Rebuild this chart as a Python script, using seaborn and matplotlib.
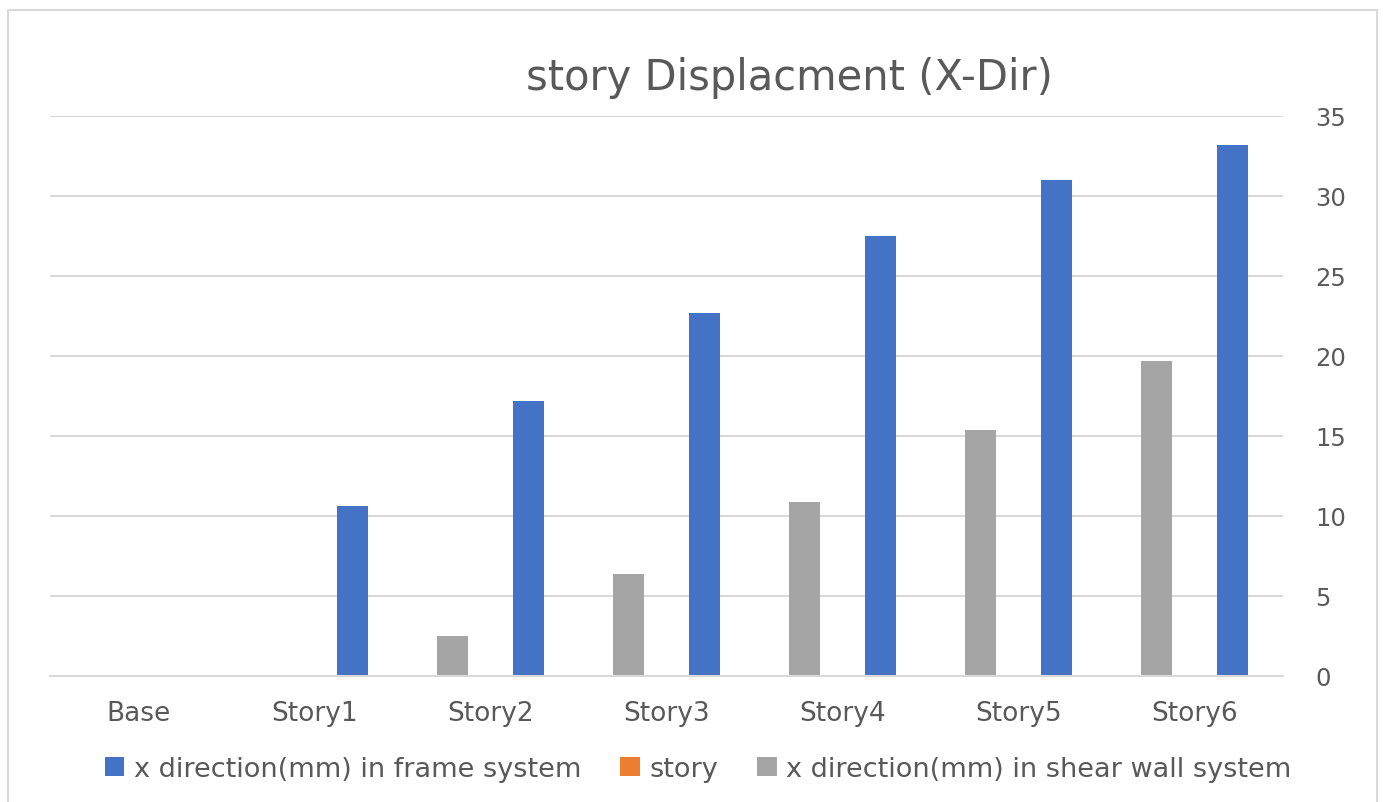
import numpy as np
import pandas as pd
import matplotlib
matplotlib.use("Agg")
import matplotlib.pyplot as plt
from matplotlib.patches import Rectangle
import seaborn as sns

categories = ["Base", "Story1", "Story2", "Story3", "Story4", "Story5", "Story6"]
frame_values = [0, 10.6, 17.2, 22.7, 27.5, 31.0, 33.2]
story_values = [0, 0, 0, 0, 0, 0, 0]
shear_values = [0, 0, 2.5, 6.4, 10.9, 15.4, 19.7]
y_ticks = [0, 5, 10, 15, 20, 25, 30, 35]

s_frame = "x direction(mm) in frame system"
s_story = "story"
s_shear = "x direction(mm) in shear wall system"

df = pd.DataFrame({
    "cat": categories * 3,
    "val": frame_values + story_values + shear_values,
    "series": [s_frame] * 7 + [s_story] * 7 + [s_shear] * 7,
})

sns.set_style("white")
plt.rcParams["font.family"] = ["DejaVu Sans"]
text_color = "#595959"
grid_color = "#d9d9d9"

fig = plt.figure(figsize=(13.83, 8.03), dpi=100)
ax = fig.add_axes([50 / 1383, 1 - 677 / 803, (1283 - 50) / 1383, (677 - 117) / 803])

palette = {s_frame: "#4472c4", s_story: "#ed7d31", s_shear: "#a5a5a5"}
sns.barplot(data=df, x="cat", y="val", hue="series",
            hue_order=[s_shear, s_story, s_frame], order=categories,
            palette=palette, width=0.648, gap=0.185, saturation=1,
            errorbar=None, ax=ax, linewidth=0)

ax.set_ylim(0, 35)
ax.set_xlim(-0.5, len(categories) - 0.5)
ax.set_yticks(y_ticks)
ax.yaxis.tick_right()
ax.tick_params(axis="both", length=0, labelcolor=text_color)
ax.tick_params(axis="x", pad=17.5, labelsize=19)
ax.tick_params(axis="y", pad=23, labelsize=17.5)
ax.set_xlabel("")
ax.set_ylabel("")
ax.yaxis.grid(True, color=grid_color, linewidth=1.5)
ax.set_axisbelow(True)
for side in ["top", "left", "right"]:
    ax.spines[side].set_visible(False)
ax.spines["bottom"].set_color(grid_color)
ax.spines["bottom"].set_linewidth(1.5)

handles, labels = ax.get_legend_handles_labels()
lookup = dict(zip(labels, handles))
ax.get_legend().remove()
fig.legend([lookup[s_frame], lookup[s_story], lookup[s_shear]],
           [s_frame, s_story, s_shear],
           loc="center", bbox_to_anchor=(698 / 1383, 1 - 770 / 803), ncol=3,
           frameon=False, fontsize=19.5, labelcolor=text_color,
           handlelength=0.72, handleheight=0.72, handletextpad=0.35,
           columnspacing=1.45, borderpad=0, borderaxespad=0)

fig.text(789 / 1383, 1 - 90 / 803, "story Displacment (X-Dir)", ha="center", va="baseline",
         fontsize=30, color=text_color)

fig.patches.append(Rectangle((8 / 1383, -0.01), (1377 - 8) / 1383, 1 - 11 / 803 + 0.01,
                             transform=fig.transFigure, fill=False,
                             edgecolor=grid_color, linewidth=1.5))

fig.savefig("out.png", dpi=100)
